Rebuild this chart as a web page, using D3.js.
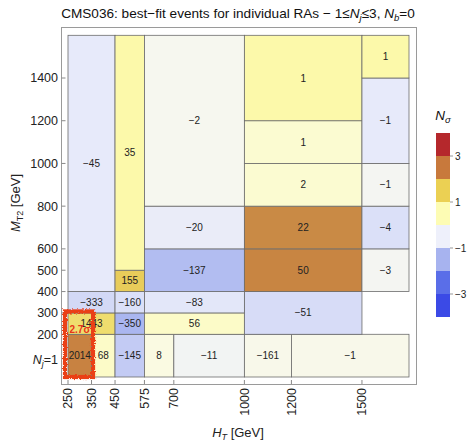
<!DOCTYPE html>
<html>
<head>
<meta charset="utf-8">
<script src="https://cdn.jsdelivr.net/npm/d3@7"></script>
<style>
  html, body { margin: 0; padding: 0; background: #fff; }
  svg { display: block; font-family: "Liberation Sans", Arial, Helvetica, sans-serif; }
</style>
</head>
<body>
<svg id="chart" width="469" height="442"></svg>
<script>
// Signal-region cells: HT range, MT2 range (the N_j=1 band uses 0–200), best-fit events and significance
const htLo   = [250, 350, 450, 575, 700, 1000, 1200,  250, 450, 575, 1000,  250, 450, 575,  250, 450, 450, 575, 575, 575, 1000, 1000, 1000, 1000, 1000, 1500, 1500, 1500, 1500, 1500];
const htHi   = [350, 450, 575, 700, 1000, 1200, 1700, 450, 575, 1000, 1500, 450, 575, 1000, 450, 575, 575, 1000, 1000, 1000, 1500, 1500, 1500, 1500, 1500, 1700, 1700, 1700, 1700, 1700];
const mtLo   = [0, 0, 0, 0, 0, 0, 0,  200, 200, 200, 200,  300, 300, 300,  400, 400, 500, 400, 600, 800, 400, 600, 800, 1000, 1200, 400, 600, 800, 1000, 1400];
const mtHi   = [200, 200, 200, 200, 200, 200, 200,  300, 300, 300, 400,  400, 400, 400,  1600, 500, 1600, 600, 800, 1600, 600, 800, 1000, 1200, 1600, 600, 800, 1000, 1400, 1600];
const events = [2014, 68, -145, 8, -11, -161, -1,  1443, -350, 56, -51,  -333, -160, -83,  -45, 155, 35, -137, -20, -2, 50, 22, 2, 1, 1, -3, -4, -1, -1, 1];
const nSigma = [2.7, 0.6, -1.2, 0.3, -0.1, 0.15, 0.15,  1.5, -1.5, 0.6, -0.9,  -1.0, -0.8, -0.6,  -0.5, 1.9, 0.9, -1.4, -0.4, 0.05, 2.6, 2.4, 0.5, 0.5, 0.9, -0.05, -0.8, -0.05, -0.5, 0.9];

const xTicks = [250, 350, 450, 575, 700, 1000, 1200, 1500];
const yTicks = [200, 300, 400, 500, 600, 800, 1000, 1200, 1400];
const njLabelAt = 80;

// Highlighted excess
const hiHt = [250, 350], hiMt = [0, 300], hiText = "2.7σ";

// Discrete legend bins for N_sigma
const legendEdges  = [4, 3, 2, 1, 0, -1, -2, -3, -4];
const legendColors = ["#b5282c", "#c8793c", "#ebd053", "#fdfcb4", "#eef0fb", "#a7b3ef", "#5a6ee8", "#3b4ae6"];
const legendTicks  = [3, 1, -1, -3];

// Continuous cell shading
const cellColor = d3.scaleLinear()
  .domain([-4, -3, -2, -1.5, -1, -0.5, 0, 0.3, 0.6, 1, 1.5, 2, 2.4, 3, 4])
  .range(["#3a48e0", "#4a5ee6", "#8e9ded", "#aab6f0", "#d3d9f6", "#e7eafa", "#f5f6f1", "#fafae2", "#fcfbc8", "#fcf8a0", "#efdd6e", "#e6c855", "#c98a45", "#c67a3c", "#b22a2a"])
  .clamp(true);

const svg = d3.select("#chart");
const x = d3.scaleLinear().domain([250, 1700]).range([68, 409]);
const y = d3.scaleLinear().domain([0, 1600]).range([377, 35.3]);
const fmt = v => (v < 0 ? "\u2212" + Math.abs(v) : String(v));

// Frame
svg.append("rect").attr("x", 61.5).attr("y", 27.5).attr("width", 355).attr("height", 357)
  .attr("fill", "none").attr("stroke", "#9a9a9a").attr("stroke-width", 1);

// Cells
const cells = htLo.map((h, i) => ({ h0: h, h1: htHi[i], m0: mtLo[i], m1: mtHi[i], ev: events[i], s: nSigma[i] }));
const g = svg.append("g");
g.selectAll("rect").data(cells).join("rect")
  .attr("x", d => x(d.h0)).attr("y", d => y(d.m1))
  .attr("width", d => x(d.h1) - x(d.h0)).attr("height", d => y(d.m0) - y(d.m1))
  .attr("fill", d => cellColor(d.s)).attr("stroke", "#6b6b6b").attr("stroke-width", 0.8);
g.selectAll("text").data(cells).join("text")
  .attr("x", d => (x(d.h0) + x(d.h1)) / 2).attr("y", d => (y(d.m0) + y(d.m1)) / 2 + 3.5)
  .attr("text-anchor", "middle").attr("font-size", 10).attr("fill", "#222")
  .text(d => fmt(d.ev));

// Axis ticks (inward) and labels
const ax = svg.append("g");
xTicks.forEach(t => {
  ax.append("line").attr("x1", x(t)).attr("x2", x(t)).attr("y1", 384).attr("y2", 380).attr("stroke", "#888");
  ax.append("text").attr("transform", `translate(${x(t) + 4.4},388) rotate(-90)`)
    .attr("text-anchor", "end").attr("font-size", 12.5).attr("fill", "#222").text(t);
});
yTicks.forEach(t => {
  ax.append("line").attr("x1", 61.5).attr("x2", 65.5).attr("y1", y(t)).attr("y2", y(t)).attr("stroke", "#888");
  ax.append("text").attr("x", 58).attr("y", y(t) + 4.4)
    .attr("text-anchor", "end").attr("font-size", 12.5).attr("fill", "#222").text(t);
});
const nj = ax.append("text").attr("x", 58).attr("y", y(njLabelAt) + 4.4)
  .attr("text-anchor", "end").attr("font-size", 12.5).attr("fill", "#222");
nj.append("tspan").attr("font-style", "italic").text("N");
nj.append("tspan").attr("font-size", 8.5).attr("dy", 3).attr("font-style", "italic").text("j");
nj.append("tspan").attr("dy", -3).text("=1");

// Axis titles
const xt = svg.append("text").attr("x", 238).attr("y", 437).attr("text-anchor", "middle")
  .attr("font-size", 13).attr("fill", "#222");
xt.append("tspan").attr("font-style", "italic").text("H");
xt.append("tspan").attr("font-size", 9).attr("dy", 3).attr("font-style", "italic").text("T");
xt.append("tspan").attr("dy", -3).text(" [GeV]");

const yt = svg.append("text").attr("transform", "translate(20,203) rotate(-90)").attr("text-anchor", "middle")
  .attr("font-size", 13).attr("fill", "#222");
yt.append("tspan").attr("font-style", "italic").text("M");
yt.append("tspan").attr("font-size", 9).attr("dy", 3).text("T2");
yt.append("tspan").attr("dy", -3).text(" [GeV]");

// Title
const tt = svg.append("text").attr("x", 238).attr("y", 18).attr("text-anchor", "middle")
  .attr("font-size", 13.6).attr("fill", "#111");
tt.append("tspan").text("CMS036: best\u2212fit events for individual RAs \u2212 1\u2264");
tt.append("tspan").attr("font-style", "italic").text("N");
tt.append("tspan").attr("font-size", 9.5).attr("dy", 3).attr("font-style", "italic").text("j");
tt.append("tspan").attr("dy", -3).text("\u22643, ");
tt.append("tspan").attr("font-style", "italic").text("N");
tt.append("tspan").attr("font-size", 9.5).attr("dy", 3).attr("font-style", "italic").text("b");
tt.append("tspan").attr("dy", -3).text("=0");

// Highlight of the excess, with a rough hand-drawn edge
const defs = svg.append("defs");
const f = defs.append("filter").attr("id", "rough").attr("x", "-20%").attr("y", "-20%").attr("width", "140%").attr("height", "140%");
f.append("feTurbulence").attr("type", "fractalNoise").attr("baseFrequency", 0.7).attr("numOctaves", 2).attr("seed", 3).attr("result", "n");
f.append("feDisplacementMap").attr("in", "SourceGraphic").attr("in2", "n").attr("scale", 4);
svg.append("rect")
  .attr("x", x(hiHt[0]) - 3).attr("y", y(hiMt[1]) - 1.5)
  .attr("width", x(hiHt[1]) - x(hiHt[0]) + 4.5).attr("height", y(hiMt[0]) - y(hiMt[1]) + 1.5)
  .attr("fill", "none").attr("stroke", "#ea3f18").attr("stroke-width", 4.2).attr("filter", "url(#rough)");
svg.append("text").attr("x", x(hiHt[0]) + 1.5).attr("y", y(200) - 1)
  .attr("font-size", 10).attr("font-weight", "bold").attr("fill", "#e8341a").text(hiText);

// Legend
const lg = svg.append("g");
const ly = d3.scaleLinear().domain([4, -4]).range([133, 317]);
legendColors.forEach((c, i) => {
  lg.append("rect").attr("x", 436).attr("y", ly(legendEdges[i])).attr("width", 14)
    .attr("height", ly(legendEdges[i + 1]) - ly(legendEdges[i])).attr("fill", c);
});
legendTicks.forEach(t => {
  lg.append("line").attr("x1", 450).attr("x2", 453).attr("y1", ly(t)).attr("y2", ly(t)).attr("stroke", "#999");
  lg.append("text").attr("x", 455).attr("y", ly(t) + 3.5).attr("font-size", 10).attr("fill", "#222").text(fmt(t));
});
const lt = lg.append("text").attr("x", 443).attr("y", 120).attr("text-anchor", "middle").attr("font-size", 13.5).attr("fill", "#111");
lt.append("tspan").attr("font-style", "italic").text("N");
lt.append("tspan").attr("font-size", 9.5).attr("dy", 3).attr("font-style", "italic").text("σ");
</script>
</body>
</html>
